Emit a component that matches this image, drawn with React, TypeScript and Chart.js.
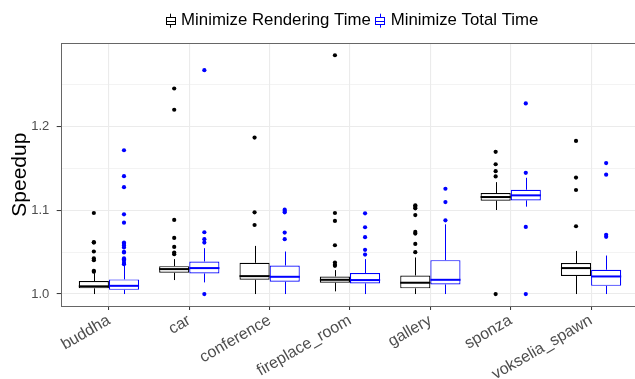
import React, { useEffect, useRef } from 'react';
import { Chart, registerables } from 'chart.js';

Chart.register(...registerables);

// ---------- data ----------
const categories = ['buddha', 'car', 'conference', 'fireplace_room', 'gallery', 'sponza', 'vokselia_spawn'];
const seriesNames = ['Minimize Rendering Time', 'Minimize Total Time'];
const seriesColors = ['#000000', '#0000FF'];

// Minimize Rendering Time: whisker low, Q1, median, Q3, whisker high
const renderLow = [1.0, 1.0167, 1.0, 1.0032, 1.0, 1.1004, 1.0];
const renderQ1 = [1.0068, 1.0254, 1.017, 1.0135, 1.0068, 1.1115, 1.0215];
const renderMed = [1.0092, 1.0298, 1.0214, 1.017, 1.0135, 1.1159, 1.031];
const renderQ3 = [1.0155, 1.0333, 1.0373, 1.021, 1.0222, 1.1206, 1.037];
const renderHigh = [1.025, 1.0417, 1.0575, 1.0286, 1.0437, 1.1337, 1.0515];
const renderOutliers = [
  [1.0968, 1.0615, 1.062, 1.0508, 1.0425, 1.0405, 1.0278, 1.0266],
  [1.2456, 1.2202, 1.0885, 1.067, 1.0563, 1.0496, 1.0476],
  [1.1869, 1.0976, 1.0825],
  [1.2853, 1.0968, 1.0873, 1.0583, 1.0377, 1.035, 1.0337],
  [1.106, 1.1044, 1.1024, 1.0944, 1.0742, 1.0722, 1.0599, 1.05],
  [1.1699, 1.1551, 1.1468, 1.1405, 1.0],
  [1.183, 1.1391, 1.1243, 1.081],
];

// Minimize Total Time
const totalLow = [1.0, 1.0139, 1.0, 1.0, 1.0, 1.1044, 1.0];
const totalQ1 = [1.005, 1.0246, 1.0147, 1.0127, 1.0115, 1.1119, 1.0098];
const totalMed = [1.0098, 1.031, 1.0206, 1.0167, 1.017, 1.1179, 1.021];
const totalQ3 = [1.0175, 1.0389, 1.0341, 1.025, 1.0405, 1.1246, 1.029];
const totalHigh = [1.0337, 1.0548, 1.0508, 1.0417, 1.0833, 1.1389, 1.046];
const totalOutliers = [
  [1.1718, 1.1408, 1.1277, 1.0952, 1.0853, 1.0615, 1.06, 1.058, 1.0556, 1.0505, 1.0496, 1.0425, 1.0415, 1.0397, 1.037, 1.0357],
  [1.2675, 1.0738, 1.0655, 1.0615, 1.0],
  [1.1008, 1.0992, 1.0976, 1.0734, 1.0655],
  [1.0964, 1.0798, 1.0679, 1.0528, 1.0472],
  [1.1258, 1.1099, 1.0881],
  [1.2278, 1.1448, 1.0802, 1.0],
  [1.1565, 1.1426, 1.0708, 1.0684],
];

const yTicks = [1.0, 1.05, 1.1, 1.15, 1.2, 1.25];
const yMajor = [1.0, 1.1, 1.2];

// ---------- style ----------
const FONT = "'Liberation Sans', Arial, Helvetica, sans-serif";
const DODGE = 0.1875;
const CANVAS_W = 660;
const CANVAS_H = 371;

export default function App() {
  const ref = useRef<HTMLCanvasElement>(null);

  useEffect(() => {
    const canvas = ref.current;
    if (!canvas) return;

    const series = [
      { name: seriesNames[0], color: seriesColors[0], low: renderLow, q1: renderQ1, med: renderMed, q3: renderQ3, high: renderHigh, out: renderOutliers, dx: -DODGE },
      { name: seriesNames[1], color: seriesColors[1], low: totalLow, q1: totalQ1, med: totalMed, q3: totalQ3, high: totalHigh, out: totalOutliers, dx: DODGE },
    ];

    const boxDatasets = series.map((s) => ({
      type: 'bar' as const,
      label: s.name,
      data: categories.map((_, i) => ({ x: i + 1, y: [s.q1[i], s.q3[i]] })),
      backgroundColor: '#FFFFFF',
      borderColor: s.color,
      borderWidth: 1.2,
      borderSkipped: false,
      categoryPercentage: 0.75,
      barPercentage: 1,
      order: 1,
    }));

    const outlierDatasets = series.map((s) => ({
      type: 'scatter' as const,
      label: s.name + ' outliers',
      data: s.out.flatMap((vals, i) => vals.map((v) => ({ x: i + 1 + s.dx, y: v }))),
      backgroundColor: s.color,
      pointBackgroundColor: s.color,
      pointRadius: 2.1,
      pointBorderWidth: 0,
      order: 2,
    }));

    const boxParts = {
      id: 'boxParts',
      afterDatasetsDraw(chart: any) {
        const ctx = chart.ctx;
        const ys = chart.scales.y;
        ctx.save();
        series.forEach((s, k) => {
          const meta = chart.getDatasetMeta(k);
          meta.data.forEach((bar: any, i: number) => {
            const p = bar.getProps(['x', 'width'], true);
            const cx = Math.round(p.x) + 0.5;
            ctx.strokeStyle = s.color;
            ctx.lineWidth = 1;
            ctx.beginPath();
            ctx.moveTo(cx, ys.getPixelForValue(s.q3[i]));
            ctx.lineTo(cx, ys.getPixelForValue(s.high[i]));
            ctx.moveTo(cx, ys.getPixelForValue(s.q1[i]));
            ctx.lineTo(cx, ys.getPixelForValue(s.low[i]));
            ctx.stroke();
            ctx.lineWidth = 2;
            const my = ys.getPixelForValue(s.med[i]);
            ctx.beginPath();
            ctx.moveTo(p.x - p.width / 2, my);
            ctx.lineTo(p.x + p.width / 2, my);
            ctx.stroke();
          });
        });
        ctx.restore();
      },
    };

    const frameAndLegend = {
      id: 'frameAndLegend',
      afterDraw(chart: any) {
        const ctx = chart.ctx;
        const a = chart.chartArea;
        ctx.save();
        ctx.strokeStyle = '#666666';
        ctx.lineWidth = 1;
        ctx.strokeRect(Math.round(a.left) + 0.5, Math.round(a.top) + 0.5, Math.round(a.right - a.left), Math.round(a.bottom - a.top));

        // legend
        ctx.font = `16.8px ${FONT}`;
        const iconW = 9;
        const gapIT = 6.5;
        const gapItems = 4.5;
        const widths = series.map((s) => ctx.measureText(s.name).width);
        const total = widths.reduce((p, c) => p + c, 0) + series.length * (iconW + gapIT) + (series.length - 1) * gapItems;
        let x = (a.left + a.right) / 2 + 2 - total / 2;
        const yc = 12.7;
        series.forEach((s, k) => {
          const left = Math.round(x) + 0.5;
          const cx = Math.round(x + iconW / 2) + 0.5;
          ctx.strokeStyle = s.color;
          ctx.lineWidth = 1;
          ctx.beginPath();
          ctx.moveTo(cx, yc - 7);
          ctx.lineTo(cx, yc - 3.5);
          ctx.moveTo(cx, yc + 3.5);
          ctx.lineTo(cx, yc + 7);
          ctx.stroke();
          ctx.strokeRect(left, Math.round(yc - 3.5) + 0.5, iconW, 7);
          ctx.beginPath();
          ctx.moveTo(left, Math.round(yc) + 0.5);
          ctx.lineTo(left + iconW, Math.round(yc) + 0.5);
          ctx.stroke();
          ctx.fillStyle = '#000000';
          ctx.textAlign = 'left';
          ctx.textBaseline = 'middle';
          ctx.fillText(s.name, x + iconW + gapIT, yc);
          x += iconW + gapIT + widths[k] + gapItems;
        });
        ctx.restore();
      },
    };

    const chart = new Chart(canvas, {
      type: 'bar',
      data: { datasets: [...boxDatasets, ...outlierDatasets] as any },
      options: {
        animation: false,
        responsive: true,
        maintainAspectRatio: false,
        events: [],
        layout: { padding: { left: 0, top: 35.3, right: CANVAS_W - 631.3, bottom: 0 } },
        plugins: { legend: { display: false }, tooltip: { enabled: false } },
        scales: {
          x: {
            type: 'linear',
            min: 0.4,
            max: 7.6,
            bounds: 'data',
            offset: false,
            afterBuildTicks: (scale: any) => {
              scale.ticks = categories.map((_, i) => ({ value: i + 1 }));
            },
            afterFit: (scale: any) => {
              scale.height = CANVAS_H - 298;
            },
            ticks: {
              autoSkip: false,
              minRotation: 30,
              maxRotation: 30,
              padding: 1,
              color: '#4D4D4D',
              font: { family: FONT, size: 16 },
              callback: (v: any) => categories[Math.round(Number(v)) - 1] ?? '',
            },
            grid: {
              offset: false,
              color: '#EBEBEB',
              lineWidth: 1.1,
              tickColor: '#333333',
              tickLength: 4,
              tickWidth: 1,
            },
            border: { display: false },
          },
          y: {
            type: 'linear',
            min: 0.9857,
            max: 1.2996,
            bounds: 'data',
            beginAtZero: false,
            afterBuildTicks: (scale: any) => {
              scale.ticks = yTicks.map((v) => ({ value: v }));
            },
            afterFit: (scale: any) => {
              scale.width = 52.7;
            },
            title: {
              display: true,
              text: 'Speedup',
              color: '#000000',
              font: { family: FONT, size: 21 },
              padding: { top: 0, bottom: 0 },
            },
            ticks: {
              padding: 7.4,
              color: '#4D4D4D',
              font: { family: FONT, size: 13 },
              callback: (v: any) => {
                const n = Number(v);
                return yMajor.some((m) => Math.abs(m - n) < 1e-6) ? n.toFixed(1) : '';
              },
            },
            grid: {
              color: '#EBEBEB',
              lineWidth: (c: any) => (yMajor.some((m) => Math.abs(m - c.tick?.value) < 1e-6) ? 1.1 : 0.6),
              tickColor: (c: any) => (yMajor.some((m) => Math.abs(m - c.tick?.value) < 1e-6) ? '#333333' : 'rgba(0,0,0,0)'),
              tickLength: 4,
              tickWidth: 1,
            },
            border: { display: false },
          },
        },
      },
      plugins: [boxParts, frameAndLegend],
    });

    return () => chart.destroy();
  }, []);

  return (
    <div style={{ position: 'fixed', left: 8, top: 8, width: 627, height: CANVAS_H, overflow: 'hidden', background: '#FFFFFF' }}>
      <div style={{ position: 'relative', width: CANVAS_W, height: CANVAS_H }}>
        <canvas ref={ref} />
      </div>
    </div>
  );
}
